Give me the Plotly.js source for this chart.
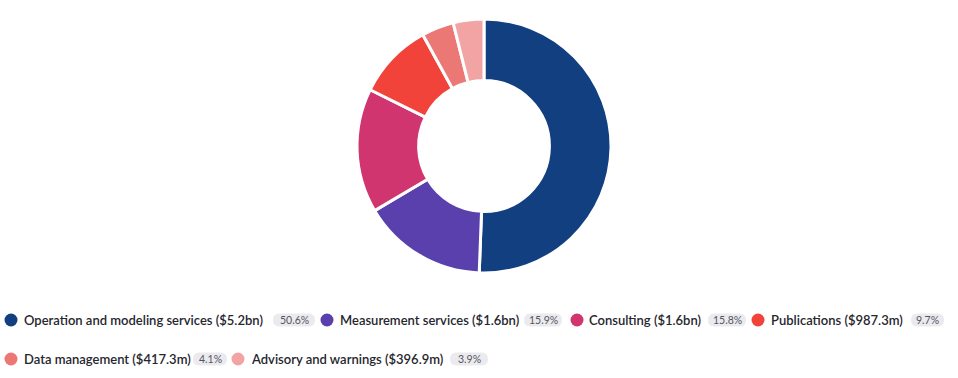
<!DOCTYPE html>
<html><head><meta charset="utf-8">
<script src="https://cdn.plot.ly/plotly-3.0.1.min.js"></script>
<style>html,body{margin:0;padding:0;background:#fff}#chart{width:958px;height:378px}</style>
</head><body><div id="chart"></div>
<script>
const categories = ["Operation and modeling services", "Measurement services", "Consulting", "Publications", "Data management", "Advisory and warnings"];
const amounts = ["$5.2bn", "$1.6bn", "$1.6bn", "$987.3m", "$417.3m", "$396.9m"];
const shares = [50.6, 15.9, 15.8, 9.7, 4.1, 3.9];
const colors = ["#123f80", "#5940ad", "#d13570", "#f2433a", "#ec7876", "#f2a3a3"];

const W = 958, H = 378;
const px = x => x / W, py = y => 1 - y / H;

// legend layout (pixel positions): [circleX, textX, pillX0, pillX1, rowY]
const legendPos = [
  [11, 24, 273, 315, 320],
  [327, 340, 524, 562, 320],
  [577, 589, 708, 746, 320],
  [758, 771, 911, 944, 320],
  [11, 24, 193, 227, 359],
  [238, 251, 450, 488, 359]
];

function pill(x0, x1, yc, h, r) {
  const y0 = yc - h / 2, y1 = yc + h / 2;
  const P = (x, y) => px(x) + ',' + py(y);
  return 'M' + P(x0 + r, y0) + ' L' + P(x1 - r, y0) + ' Q' + P(x1, y0) + ' ' + P(x1, y0 + r) +
    ' L' + P(x1, y1 - r) + ' Q' + P(x1, y1) + ' ' + P(x1 - r, y1) +
    ' L' + P(x0 + r, y1) + ' Q' + P(x0, y1) + ' ' + P(x0, y1 - r) +
    ' L' + P(x0, y0 + r) + ' Q' + P(x0, y0) + ' ' + P(x0 + r, y0) + ' Z';
}

const shapes = [], annotations = [];
categories.forEach((c, i) => {
  const [cx, tx, p0, p1, y] = legendPos[i];
  shapes.push({type: 'circle', xref: 'paper', yref: 'paper', x0: px(cx - 6.5), x1: px(cx + 6.5), y0: py(y + 6.5), y1: py(y - 6.5), fillcolor: colors[i], line: {width: 0}});
  shapes.push({type: 'path', xref: 'paper', yref: 'paper', path: pill(p0, p1, y, 13, 6.5), fillcolor: '#ebebef', line: {width: 0}});
  annotations.push({xref: 'paper', yref: 'paper', x: px(tx - 1), y: py(y), xanchor: 'left', yanchor: 'middle', showarrow: false,
    borderpad: 0, text: c + ' (' + amounts[i] + ')', font: {family: 'Lato, sans-serif', size: 13, color: '#26262e', weight: 600}});
  annotations.push({xref: 'paper', yref: 'paper', x: px((p0 + p1) / 2), y: py(y), xanchor: 'center', yanchor: 'middle', showarrow: false,
    borderpad: 0, text: shares[i].toFixed(1) + '%', font: {family: 'Lato, sans-serif', size: 10.5, color: '#555560'}});
});

const trace = {
  type: 'pie', labels: categories, values: shares, sort: false, direction: 'clockwise', rotation: 0,
  hole: 0.515, textinfo: 'none', hoverinfo: 'label+percent',
  marker: {colors: colors, line: {color: '#ffffff', width: 3}},
  domain: {x: [px(484 - 127), px(484 + 127)], y: [py(273), py(19)]},
  showlegend: false
};

Plotly.newPlot('chart', [trace], {
  width: W, height: H, margin: {l: 0, r: 0, t: 0, b: 0},
  paper_bgcolor: '#ffffff', plot_bgcolor: '#ffffff',
  showlegend: false, shapes: shapes, annotations: annotations
}, {displayModeBar: false, staticPlot: true});
</script></body></html>
